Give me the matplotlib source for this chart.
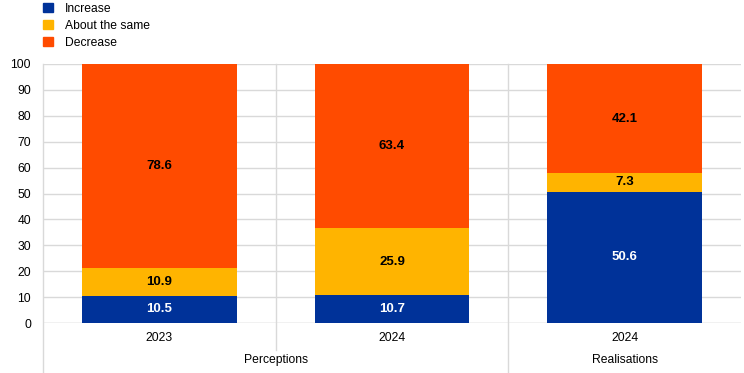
import matplotlib.pyplot as plt
import numpy as np
from matplotlib.patches import Patch
import matplotlib.transforms as mtransforms

plt.rcParams['font.family'] = ['Liberation Sans', 'DejaVu Sans']

years = ["2023", "2024", "2024"]
groups = ["Perceptions", "Realisations"]
increase = [10.5, 10.7, 50.6]
same = [10.9, 25.9, 7.3]
decrease = [78.6, 63.4, 42.1]

series_names = ["Increase", "About the same", "Decrease"]
colors = ["#003299", "#FFB400", "#FF4B00"]
grid_col = "#d9d9d9"

fig = plt.figure(figsize=(7.44, 3.73), dpi=100)
ax = fig.add_axes([43 / 744, 1 - 323 / 373, 698 / 744, 259 / 373])

x = np.arange(len(years))
w = 0.665
bottom = np.zeros(len(years))
for vals, col in zip([increase, same, decrease], colors):
    ax.bar(x, vals, w, bottom=bottom, color=col, zorder=2)
    for xi, b, v in zip(x, bottom, vals):
        ax.text(xi, b + v / 2, f"{v:.1f}", ha="center", va="center",
                fontsize=9.5, fontweight="bold",
                color="white" if col == colors[0] else "black", zorder=3)
    bottom += np.array(vals)

ax.set_xlim(-0.5, 2.5)
ax.set_ylim(0, 100)
ax.set_yticks(range(0, 101, 10))
ax.tick_params(axis="y", length=0, labelsize=8.7, pad=8.6)
ax.set_xticks([])
ax.grid(axis="y", color=grid_col, linewidth=1, zorder=0)
for s in ax.spines.values():
    s.set_visible(False)
ax.axhline(0, color=grid_col, linewidth=1, zorder=1)

trans = mtransforms.blended_transform_factory(ax.transData, ax.transAxes)
# separators
for xs, ylow in [(-0.5, -0.193), (0.5, -0.104), (1.5, -0.193)]:
    ax.plot([xs, xs], [ylow, 1], color=grid_col, linewidth=1,
            transform=trans, clip_on=False, zorder=1)

for xi, yr in zip(x, years):
    ax.text(xi, -15 / 259, yr, ha="center", va="center", fontsize=8.7,
            transform=trans)
ax.text(0.5, -37 / 259, groups[0], ha="center", va="center", fontsize=8.7,
        transform=trans)
ax.text(2, -37 / 259, groups[1], ha="center", va="center", fontsize=8.7,
        transform=trans)

handles = [Patch(color=c, label=n) for c, n in zip(colors, series_names)]
fig.legend(handles=handles, loc="upper left", bbox_to_anchor=(38 / 744, 1.005),
           frameon=False, fontsize=8.7, handlelength=0.8, handleheight=0.8,
           handletextpad=1.0, labelspacing=0.4, borderaxespad=0)

fig.savefig("out.png", dpi=100)
